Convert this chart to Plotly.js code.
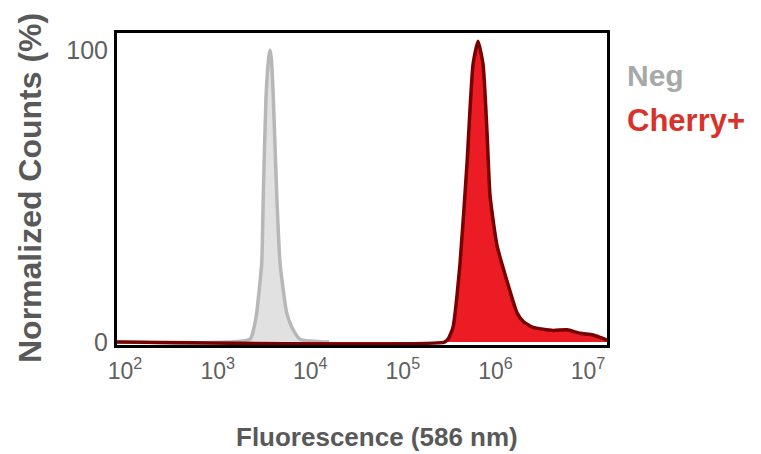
<!DOCTYPE html>
<html>
<head>
<meta charset="utf-8">
<script src="https://cdn.plot.ly/plotly-3.0.1.min.js"></script>
<style>html,body{margin:0;padding:0;background:#fff;}#chart{width:761px;height:454px;}</style>
</head>
<body>
<div id="chart"></div>
<script>
// Fluorescence values (586 nm) and normalized counts (%)
var negX = [80, 2240, 2470, 2640, 2990, 3110, 3330, 3550, 3680, 3800, 3990, 4350, 4720, 5570, 6350, 7760, 16000];
var negY = [0, 1, 5, 10, 27, 50, 84, 97, 100, 97, 84, 50, 27, 10, 5, 1, 0];

var cherryX = [80, 282000, 308000, 348000, 415000, 493000, 573000, 649000, 735000, 811000, 875000, 1040000, 1330000, 1710000, 2000000, 2550000, 4190000, 5930000, 8200000, 11300000, 15300000, 16000000];
var cherryY = [0, 0, 1, 5, 27, 61, 95, 103, 95, 72, 50, 33, 21, 10, 7, 5, 4, 4.2, 3, 2.4, 1, 0.5];

var seriesNames = ['Neg', 'Cherry+'];
var yTickVals = [0, 100];
var yTickText = ['0', '100'];
var xTickVals = [1e2, 1e3, 1e4, 1e5, 1e6, 1e7];
var xTickText = ['10<sup>2</sup>', '10<sup>3</sup>', '10<sup>4</sup>', '10<sup>5</sup>', '10<sup>6</sup>', '10<sup>7</sup>'];
var xTitle = 'Fluorescence (586 nm)';
var yTitle = 'Normalized Counts (%)';

var FONT = 'Liberation Sans, Arial, sans-serif';

var traces = [
  {
    x: negX, y: negY, name: seriesNames[0], type: 'scatter', mode: 'lines',
    fill: 'tozeroy', fillcolor: '#e1e1e1',
    line: {color: '#b7b7b7', width: 3.5, shape: 'spline', smoothing: 0.5},
    hoverinfo: 'x+y'
  },
  {
    x: cherryX, y: cherryY, name: seriesNames[1], type: 'scatter', mode: 'lines',
    fill: 'tozeroy', fillcolor: '#ec1c24',
    line: {color: '#780000', width: 3.5, shape: 'spline', smoothing: 0.5},
    hoverinfo: 'x+y'
  }
];

var layout = {
  width: 761, height: 454,
  margin: {l: 117, r: 154, t: 33, b: 109},
  paper_bgcolor: '#fff', plot_bgcolor: '#fff',
  showlegend: false,
  font: {family: FONT, color: '#666'},
  xaxis: {
    type: 'log',
    range: [1.913, 7.205],
    tickvals: xTickVals, ticktext: xTickText,
    showgrid: false, zeroline: false,
    showline: true, mirror: true, linecolor: '#000', linewidth: 3,
    ticks: 'outside', ticklen: 3, tickcolor: 'rgba(0,0,0,0)',
    tickfont: {size: 23, color: '#606060'}
  },
  yaxis: {
    range: [-1.0, 105.8],
    tickvals: yTickVals, ticktext: yTickText,
    showgrid: false, zeroline: false,
    showline: true, mirror: true, linecolor: '#000', linewidth: 3,
    ticks: 'outside', ticklen: 1, tickcolor: 'rgba(0,0,0,0)',
    tickfont: {size: 25, color: '#606060'}
  },
  annotations: [
    {xref: 'paper', yref: 'paper', x: 1.037, y: 0.865, xanchor: 'left', yanchor: 'middle', showarrow: false,
     text: '<b>' + seriesNames[0] + '</b>', font: {size: 30, color: '#a7a9a9', family: FONT}},
    {xref: 'paper', yref: 'paper', x: 1.037, y: 0.718, xanchor: 'left', yanchor: 'middle', showarrow: false,
     text: '<b>' + seriesNames[1] + '</b>', font: {size: 31, color: '#d8322b', family: FONT}},
    {xref: 'paper', yref: 'paper', x: (377 - 117) / 490, y: (345 - 437) / 312, xanchor: 'center', yanchor: 'middle', showarrow: false,
     text: '<b>' + xTitle + '</b>', font: {size: 26, color: '#595959', family: FONT}},
    {xref: 'paper', yref: 'paper', x: (30 - 117) / 490, y: (345 - 188) / 312, xanchor: 'center', yanchor: 'middle', showarrow: false, textangle: -90,
     text: '<b>' + yTitle + '</b>', font: {size: 32, color: '#595959', family: FONT}}
  ]
};

Plotly.newPlot('chart', traces, layout, {displayModeBar: false, staticPlot: true});
</script>
</body>
</html>
